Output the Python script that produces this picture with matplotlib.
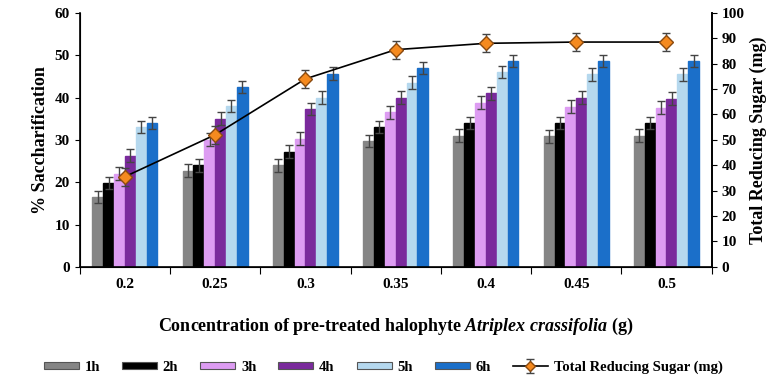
import matplotlib.pyplot as plt
import numpy as np

concentrations = ['0.2', '0.25', '0.3', '0.35', '0.4', '0.45', '0.5']
hours = ['1h', '2h', '3h', '4h', '5h', '6h']
sacc_1h = [16.5, 22.7, 24.0, 29.7, 31.0, 30.8, 31.0]
sacc_2h = [19.8, 24.0, 27.2, 33.0, 34.0, 34.0, 34.0]
sacc_3h = [22.0, 30.0, 30.3, 36.5, 38.8, 37.8, 37.6]
sacc_4h = [26.3, 35.0, 37.3, 40.0, 41.0, 40.0, 39.7]
sacc_5h = [33.0, 38.0, 40.0, 43.5, 46.0, 45.5, 45.5]
sacc_6h = [34.0, 42.5, 45.6, 47.0, 48.6, 48.6, 48.6]
sacc_err = 1.5
trs = [35.5, 52.0, 74.0, 85.5, 88.0, 88.5, 88.5]
trs_err = 3.5

colors = ['#858585', '#000000', '#dd9cf2', '#7a2a9c', '#b5d8ee', '#1b6fc9']
series = [sacc_1h, sacc_2h, sacc_3h, sacc_4h, sacc_5h, sacc_6h]

plt.rcParams['font.family'] = 'Liberation Serif'
plt.rcParams['font.weight'] = 'bold'
plt.rcParams['mathtext.fontset'] = 'custom'
plt.rcParams['mathtext.it'] = 'Liberation Serif:italic:bold'
plt.rcParams['mathtext.rm'] = 'Liberation Serif:bold'

fig = plt.figure(figsize=(7.82, 3.89), dpi=100)
ax = fig.add_axes([0.102, 0.314, 0.808, 0.653])

x = np.arange(len(concentrations)) + 0.5
w = 0.12
for i, (vals, c) in enumerate(zip(series, colors)):
    ax.bar(x + (i - 2.5) * w, vals, w, color=c, label=hours[i], edgecolor=c,
           yerr=sacc_err, error_kw=dict(ecolor='#444444', elinewidth=1, capsize=3, capthick=1))

ax.set_xlim(0, 7)
ax.set_ylim(0, 60)
ax.set_yticks(range(0, 61, 10))
ax.set_xticks(np.arange(0, 8))
ax.set_xticklabels([])
ax.set_xticks(x, minor=True)
ax.set_xticklabels(concentrations, minor=True)
ax.tick_params(axis='x', which='minor', length=0, pad=8, labelsize=11)
ax.tick_params(axis='x', which='major', direction='out', length=5)
ax.tick_params(axis='y', direction='out', labelsize=11)
ax.spines['top'].set_visible(False)
for s in ['left', 'bottom', 'right']:
    ax.spines[s].set_linewidth(1.2)
ax.set_ylabel('% Saccharification', fontsize=13, fontweight='bold')
ax.set_xlabel('Concentration of pre-treated halophyte $\\it{Atriplex\\ crassifolia}$ (g)',
              fontsize=13, fontweight='bold', labelpad=18)

ax2 = ax.twinx()
ax2.errorbar(x, trs, yerr=trs_err, color='black', linewidth=1.2, marker='D', markersize=7,
             markerfacecolor='#f58a1f', markeredgecolor='#8a4a10', ecolor='#444444',
             elinewidth=1, capsize=3, label='Total Reducing Sugar (mg)')
ax2.set_ylim(0, 100)
ax2.set_yticks(range(0, 101, 10))
ax2.tick_params(axis='y', direction='out', labelsize=11)
ax2.spines['top'].set_visible(False)
ax2.spines['right'].set_linewidth(1.2)
ax2.set_ylabel('Total Reducing Sugar (mg)', fontsize=13, fontweight='bold')

h1, l1 = ax.get_legend_handles_labels()
h2, l2 = ax2.get_legend_handles_labels()
leg = fig.legend(h1 + h2, l1 + l2, loc='lower center', bbox_to_anchor=(0.49, 0.005), ncol=7,
                 frameon=False, fontsize=10.5, handlelength=2.4, handletextpad=0.4,
                 columnspacing=1.5, handleheight=0.45, markerscale=0.75)
for p in leg.get_patches():
    p.set_edgecolor('#555555')
    p.set_linewidth(0.8)

plt.savefig('out.png', dpi=100)
